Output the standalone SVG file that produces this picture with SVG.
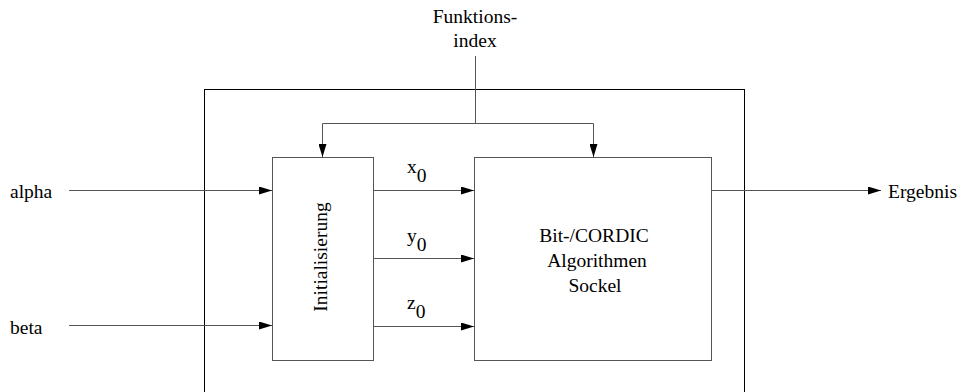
<svg xmlns="http://www.w3.org/2000/svg" width="964" height="392" viewBox="0 0 964 392">
  <style>
    text { font-family: "Liberation Serif", "Times New Roman", serif; font-size: 19.5px; fill: #000; }
    .box { fill: none; stroke: #555; stroke-width: 1; }
    .frame { fill: none; stroke: #000; stroke-width: 1; }
    .wire { fill: none; stroke: #555; stroke-width: 1; }
  </style>
  <defs>
    <marker id="arrow" viewBox="0 0 13 8" refX="13" refY="4" markerWidth="13" markerHeight="8" markerUnits="userSpaceOnUse" orient="auto">
      <path d="M0,0 L13,4 L0,8 Z" fill="#000"/>
    </marker>
  </defs>

  <rect fill="#fff" x="0" y="0" width="964" height="392"/>

  <!-- enclosing frame, open past the bottom edge -->
  <g id="frame">
    <rect class="frame" x="204.5" y="89.5" width="540" height="320"/>
  </g>

  <g id="init">
    <rect class="box" x="272.5" y="157.5" width="101" height="203"/>
    <text font-family="Liberation Serif, serif" x="0" y="0" text-anchor="middle" transform="translate(327,257) rotate(-90)">Initialisierung</text>
  </g>

  <g id="cordic">
    <rect class="box" x="474.5" y="157.5" width="237" height="203"/>
    <text font-family="Liberation Serif, serif" x="594" y="242" text-anchor="middle">Bit-/CORDIC</text>
    <text font-family="Liberation Serif, serif" x="597" y="267" text-anchor="middle">Algorithmen</text>
    <text font-family="Liberation Serif, serif" x="595" y="292" text-anchor="middle">Sockel</text>
  </g>

  <g id="labels" font-family="Liberation Serif, serif">
    <text x="475" y="23" text-anchor="middle">Funktions-</text>
    <text x="475" y="47" text-anchor="middle">index</text>
    <text x="10" y="198">alpha</text>
    <text x="10" y="334">beta</text>
    <text x="888" y="198">Ergebnis</text>
    <text x="407" y="173">x<tspan dy="9">0</tspan></text>
    <text x="407" y="242">y<tspan dy="9">0</tspan></text>
    <text x="407" y="309">z<tspan dy="9">0</tspan></text>
  </g>

  <g id="connectors">
    <path class="wire" d="M475.5,56 V123.5"/>
    <path class="wire" d="M322.5,123.5 H593.5"/>
    <path class="wire" d="M322.5,123.5 V157" marker-end="url(#arrow)"/>
    <path class="wire" d="M593.5,123.5 V157" marker-end="url(#arrow)"/>
    <path class="wire" d="M69,190.5 H272" marker-end="url(#arrow)"/>
    <path class="wire" d="M69,325.5 H272" marker-end="url(#arrow)"/>
    <path class="wire" d="M374,190.5 H474" marker-end="url(#arrow)"/>
    <path class="wire" d="M374,258.5 H474" marker-end="url(#arrow)"/>
    <path class="wire" d="M374,326.5 H474" marker-end="url(#arrow)"/>
    <path class="wire" d="M712,190.5 H881" marker-end="url(#arrow)"/>
  </g>
</svg>
